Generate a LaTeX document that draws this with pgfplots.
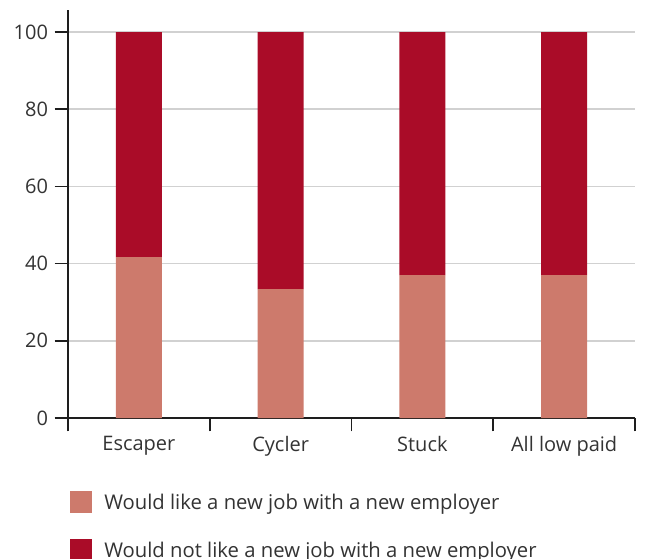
\documentclass[border=0pt]{standalone}
\usepackage{fontspec}
\setmainfont{Open Sans}
\usepackage{pgfplots}
\pgfplotsset{compat=1.18}

\definecolor{likenew}{RGB}{205,122,108}
\definecolor{notnew}{RGB}{170,12,40}
\definecolor{txt}{RGB}{51,51,51}
\definecolor{axln}{RGB}{30,30,30}

\pgfplotsset{
  sqleg/.style={legend image code/.code={\fill[##1] (0pt,-8.25pt) rectangle (16.5pt,8.25pt);}}
}

\begin{document}
\begin{tikzpicture}
\begin{axis}[
  name=ax,
  scale only axis,
  width=425.25pt, height=306pt,
  xmin=-0.5, xmax=3.5,
  ymin=0, ymax=105.7,
  ybar stacked, bar width=34.5pt,
  axis x line*=bottom, axis y line*=left,
  axis line style={-, line width=1.3pt, color=axln},
  ytick={0,20,...,100},
  xtick={-0.5,0.5,1.5,2.5,3.5},
  x tick label as interval,
  xticklabels={Escaper,Cycler,Stuck,All low paid},
  tick align=outside,
  major tick length=10pt,
  tick style={line width=1.3pt, color=axln},
  ymajorgrids,
  grid style={line width=1.1pt, color=black!18},
  /pgf/number format/assume math mode=true,
  tick label style={font=\fontsize{15}{17}\selectfont, color=txt},
  yticklabel style={xshift=-1.5pt},
  legend style={at={(axis description cs:0,0)}, anchor=north west,
    xshift=1.5pt, yshift=-54.5pt, draw=none, fill=none,
    font=\fontsize{15.2}{17}\selectfont, text=txt,
    row sep=19pt, column sep=7pt, inner sep=0pt},
  legend cell align=left,
]
\addplot[fill=likenew, draw=none, sqleg] coordinates {(0,41.7) (1,33.4) (2,37.0) (3,37.0)};
\addplot[fill=notnew, draw=none, sqleg] coordinates {(0,58.3) (1,66.6) (2,63.0) (3,63.0)};
\legend{Would like a new job with a new employer, Would not like a new job with a new employer}
\end{axis}
\pgfresetboundingbox
\path (ax.south west) ++(-51pt,-105pt) rectangle ++(488.25pt,418.5pt);
\end{tikzpicture}
\end{document}
